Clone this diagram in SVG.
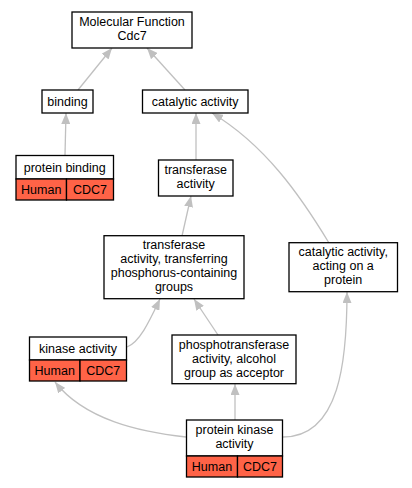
<svg xmlns="http://www.w3.org/2000/svg" width="412" height="488" viewBox="0 0 412 488">
<style>
text{font-family:"Liberation Sans",Arial,sans-serif;font-size:12.5px;fill:#000;text-anchor:middle}
.box{fill:#fff;stroke:#000;stroke-width:1.3}
.org{fill:#ff6347;stroke:#000;stroke-width:1.3}
.e{fill:none;stroke:#c0c0c0;stroke-width:1.3}
</style>
<defs>
<marker id="ah" markerUnits="userSpaceOnUse" markerWidth="11" markerHeight="9" refX="11" refY="4.5" orient="auto">
<path d="M0,0 L11,4.5 L0,9 z" fill="#c0c0c0"/>
</marker>
</defs>
<rect width="412" height="488" fill="#fff"/>
<g id="edges">
<path class="e" marker-end="url(#ah)" d="M78,90 L112,48"/>
<path class="e" marker-end="url(#ah)" d="M185,90 L147,48"/>
<path class="e" marker-end="url(#ah)" d="M65,155 L66,113"/>
<path class="e" marker-end="url(#ah)" d="M196,160 L196,113"/>
<path class="e" marker-end="url(#ah)" d="M329,243 C300,195 265,145 212,113"/>
<path class="e" marker-end="url(#ah)" d="M182,236 L191,196"/>
<path class="e" marker-end="url(#ah)" d="M127,347 C140,342 150,320 160,299"/>
<path class="e" marker-end="url(#ah)" d="M218,335 L194,299"/>
<path class="e" marker-end="url(#ah)" d="M186,437 C140,432 85,420 55,382"/>
<path class="e" marker-end="url(#ah)" d="M235,420 L235,384"/>
<path class="e" marker-end="url(#ah)" d="M283,437 C340,437 347,360 347,292"/>
</g>
<g id="mf">
<rect class="box" x="72" y="12" width="120" height="36"/>
<text x="132" y="26">Molecular Function</text>
<text x="132" y="40">Cdc7</text>
</g>
<g id="binding">
<rect class="box" x="42" y="90" width="51" height="23"/>
<text x="67.5" y="106">binding</text>
</g>
<g id="catalytic">
<rect class="box" x="142.5" y="90" width="105.5" height="23"/>
<text x="195.2" y="106">catalytic activity</text>
</g>
<g id="protein-binding">
<rect class="box" x="16" y="155.5" width="97.5" height="23.5"/>
<text x="64.7" y="171.5">protein binding</text>
<rect class="org" x="16" y="179" width="50.5" height="21"/>
<rect class="org" x="66.5" y="179" width="47" height="21"/>
<text x="41.2" y="194">Human</text>
<text x="90" y="194">CDC7</text>
</g>
<g id="transferase">
<rect class="box" x="158.5" y="160" width="74.5" height="36"/>
<text x="195.7" y="174">transferase</text>
<text x="195.7" y="188">activity</text>
</g>
<g id="transferring">
<rect class="box" x="104" y="235.7" width="140" height="63"/>
<text x="174" y="249.1">transferase</text>
<text x="174" y="263.1">activity, transferring</text>
<text x="174" y="277.1">phosphorus-containing</text>
<text x="174" y="291.1">groups</text>
</g>
<g id="acting">
<rect class="box" x="289" y="242.7" width="108.5" height="49"/>
<text x="343.2" y="256.4">catalytic activity,</text>
<text x="343.2" y="270.4">acting on a</text>
<text x="343.2" y="284.4">protein</text>
</g>
<g id="kinase">
<rect class="box" x="29.5" y="337" width="97" height="23"/>
<text x="78" y="352.5">kinase activity</text>
<rect class="org" x="29.5" y="360" width="50.5" height="21"/>
<rect class="org" x="80" y="360" width="46.5" height="21"/>
<text x="54.7" y="375">Human</text>
<text x="103.2" y="375">CDC7</text>
</g>
<g id="phospho">
<rect class="box" x="172" y="335" width="124" height="48.7"/>
<text x="234" y="348.9">phosphotransferase</text>
<text x="234" y="362.9">activity, alcohol</text>
<text x="234" y="376.9">group as acceptor</text>
</g>
<g id="protein-kinase">
<rect class="box" x="186.5" y="420" width="96" height="36"/>
<text x="234.5" y="434.2">protein kinase</text>
<text x="234.5" y="448.2">activity</text>
<rect class="org" x="186.5" y="456" width="51" height="21"/>
<rect class="org" x="237.5" y="456" width="45" height="21"/>
<text x="212" y="471">Human</text>
<text x="260" y="471">CDC7</text>
</g>
</svg>
